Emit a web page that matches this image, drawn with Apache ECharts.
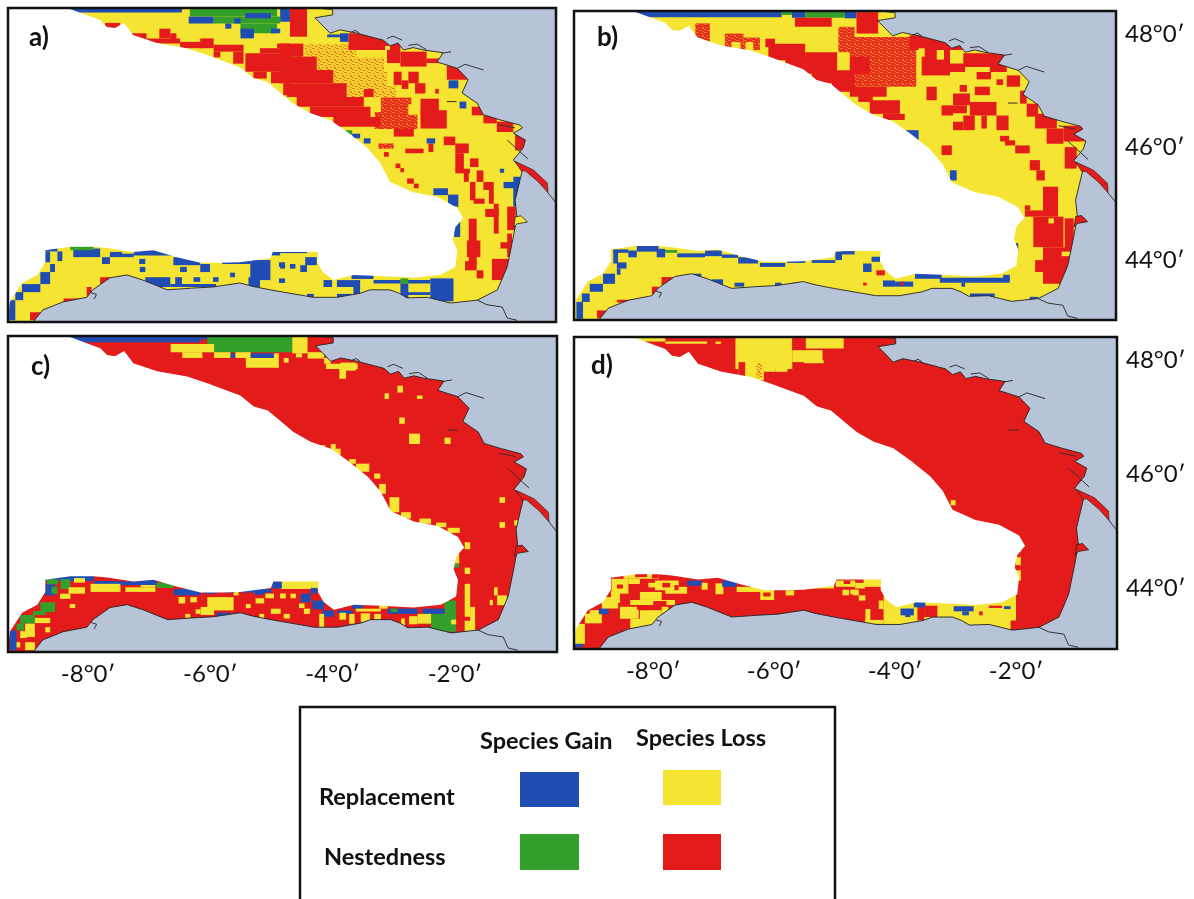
<!DOCTYPE html>
<html><head><meta charset="utf-8"><style>html,body{margin:0;padding:0;background:#fff}#c{width:1194px;height:899px}</style>
<script src="https://cdn.jsdelivr.net/npm/echarts@6/dist/echarts.min.js"></script></head><body><div id="c"></div>
<script>
const B=0,Y=1,G=2,R=3,O=4,S=5;
const classColors=['#1f4db3','#f5e532','#34a02c','#e31b1b'];
const classNames=['Replacement gain','Replacement loss','Nestedness gain','Nestedness loss'];
const lonTicks=[-8,-6,-4,-2];
const latTicks=[48,46,44];
const lonRange=[-9.31,-0.33];
const latRange=[42.94,48.41];
const deepWater=[[-9.31,48.41],[-8.34,48.41],[-7.80,48.20],[-7.69,48.08],[-7.56,48.06],[-7.41,48.15],[-7.26,47.94],[-6.87,47.80],[-6.38,47.71],[-6.05,47.59],[-5.51,47.38],[-5.29,47.19],[-5.06,47.12],[-4.80,46.89],[-4.64,46.75],[-4.36,46.58],[-4.03,46.46],[-3.75,46.25],[-3.42,45.97],[-3.21,45.71],[-3.05,45.38],[-2.67,45.20],[-2.28,45.12],[-1.95,44.93],[-1.85,44.75],[-1.98,44.59],[-2.02,44.37],[-1.95,44.19],[-1.98,43.90],[-2.23,43.76],[-2.67,43.71],[-3.21,43.74],[-3.65,43.76],[-3.98,43.67],[-4.15,43.81],[-4.24,43.98],[-4.23,44.16],[-4.97,44.16],[-5.01,44.05],[-5.51,43.98],[-5.83,43.97],[-6.16,43.97],[-6.54,44.07],[-6.93,44.19],[-7.26,44.16],[-7.69,44.23],[-7.92,44.25],[-8.29,44.25],[-8.70,44.19],[-8.70,43.98],[-8.83,43.76],[-9.08,43.62],[-9.28,43.29],[-9.31,42.97]];
const land=[[-4.24,48.41],[-3.99,48.38],[-3.99,48.29],[-4.28,48.24],[-4.03,47.97],[-3.87,48.03],[-3.59,47.97],[-3.16,47.85],[-3.05,47.75],[-2.92,47.80],[-2.83,47.68],[-2.67,47.72],[-2.51,47.68],[-2.18,47.63],[-2.28,47.47],[-1.95,47.36],[-1.77,47.16],[-1.87,46.93],[-1.62,46.75],[-1.52,46.55],[-1.24,46.46],[-0.92,46.37],[-0.88,46.32],[-1.03,46.23],[-0.83,46.11],[-0.87,45.97],[-1.03,45.76],[-0.88,45.59],[-1.0,45.06],[-0.97,44.77],[-1.03,44.42],[-1.13,43.90],[-1.29,43.50],[-1.62,43.32],[-2.06,43.27],[-2.44,43.37],[-2.77,43.36],[-2.9,43.44],[-3.05,43.50],[-3.38,43.50],[-3.54,43.44],[-3.92,43.37],[-4.31,43.37],[-4.52,43.41],[-4.69,43.44],[-5.01,43.50],[-5.3,43.56],[-5.51,43.62],[-5.95,43.55],[-6.3,43.53],[-6.70,43.50],[-7.10,43.67],[-7.36,43.76],[-7.64,43.71],[-7.92,43.50],[-8.02,43.37],[-8.41,43.29],[-8.74,43.15],[-8.90,42.94],[-0.33,42.94],[-0.33,48.41]];
const gironde=[[-1.0,45.74],[-0.70,45.59],[-0.47,45.36],[-0.46,45.19],[-0.62,45.38],[-0.83,45.57],[-0.90,45.57]];
const arcachon=[[-1.0,44.77],[-0.90,44.79],[-0.80,44.68],[-0.97,44.65],[-1.02,44.59]];
const riverLines=[
 [[-0.46,45.19],[-0.34,45.03]],
 [[-1.62,43.32],[-1.46,43.24],[-1.21,43.20],[-1.13,43.01],[-0.97,42.97]],
 [[-1.95,47.36],[-1.82,47.43],[-1.52,47.33]],
 [[-3.10,47.88],[-3.0,47.92],[-2.85,47.85]],
 [[-2.75,47.76],[-2.6,47.78],[-2.45,47.68]],
 [[-1.13,46.11],[-0.79,45.78]],
 [[-1.28,46.38],[-1.0,46.32]],
 [[-2.12,46.78],[-1.96,46.78]],
 [[-3.7,47.98],[-3.62,48.02],[-3.55,47.97]],
 [[-2.2,47.62],[-2.05,47.65]],
 [[-7.95,43.45],[-7.86,43.42],[-7.9,43.34]]
];
const cellsA=[
[-4.45,47.78,-3.6,47.55,O],[-4.25,47.55,-3.15,47.3,O],[-3.98,47.3,-3.1,47.05,O],[-3.75,47.05,-2.95,46.85,O],[-3.2,46.85,-2.7,46.55,S],[-3.3,46.6,-2.6,46.3,S],
[-8.4,48.41,-6.46,48.33,B],[-6.33,48.41,-4.9,48.26,G],[-5.94,48.26,-4.85,48.14,G],[-5.5,48.14,-4.9,47.97,G],[-6.35,48.26,-5.94,48.14,B],[-5.42,48.32,-5.0,48.23,B],[-5.6,48.23,-5.5,48.14,B],[-5.75,48.14,-5.65,48.05,B],[-5.5,48.05,-5.28,47.88,B],[-5.0,48.05,-4.85,47.97,B],[-4.85,48.41,-4.69,48.17,B],
[-4.69,48.41,-4.41,47.91,R],[-7.72,48.15,-7.47,48.06,R],[-7.28,47.97,-7.04,47.85,R],[-7.04,47.88,-6.49,47.79,R],[-6.83,48.05,-6.65,47.88,R],[-6.65,47.97,-6.55,47.82,R],[-6.49,47.82,-6.1,47.71,R],[-6.16,47.88,-5.94,47.71,R],[-5.94,47.77,-5.45,47.65,R],[-5.94,47.65,-5.83,47.55,R],[-5.62,47.65,-5.45,47.44,R],
[-5.42,47.62,-4.69,47.3,R],[-5.18,47.71,-4.69,47.62,R],[-4.9,47.79,-4.69,47.71,R],[-5.29,47.3,-5.07,47.18,R],[-5.0,47.3,-4.69,47.1,R],[-4.8,47.1,-4.69,46.89,R],
[-4.85,47.79,-4.47,47.56,R],[-4.85,47.56,-4.25,47.33,R],[-4.85,47.33,-3.98,47.1,R],[-4.74,47.1,-3.76,46.86,R],[-4.58,46.86,-3.48,46.69,R],[-4.36,46.69,-3.37,46.51,R],[-3.98,46.51,-3.21,46.34,R],
[-2.55,46.83,-2.25,46.54,R],[-2.55,46.63,-2.12,46.31,R],
[-3.73,47.97,-2.88,47.68,R],[-3.1,47.68,-2.88,47.45,R],[-2.88,47.65,-2.45,47.39,R],[-2.45,47.53,-2.17,47.45,R],[-2.12,47.45,-1.74,47.16,R],
[-2.99,47.3,-2.86,47.07,R],[-2.86,47.15,-2.75,47.0,R],[-2.75,47.3,-2.58,47.1,R],[-2.64,47.1,-2.47,46.92,R],[-2.31,47.0,-2.25,46.92,R],[-3.48,47.0,-3.32,46.86,R],
[-2.99,46.31,-2.66,46.17,R],[-1.71,46.69,-1.52,46.54,R],[-1.52,46.54,-1.3,46.4,R],[-1.3,46.43,-1.03,46.25,R],[-1.0,46.22,-0.83,45.93,R],
[-2.17,46.17,-1.98,46.02,R],[-1.98,46.05,-1.76,45.88,R],[-1.98,45.88,-1.84,45.6,R],[-1.98,45.61,-1.74,45.53,R],[-1.84,45.55,-1.76,45.38,R],[-1.74,45.79,-1.6,45.64,R],[-1.63,45.58,-1.52,45.38,R],[-1.74,45.38,-1.65,45.06,R],[-1.52,45.38,-1.35,45.24,R],[-1.68,45.09,-1.5,45.0,R],[-1.43,45.24,-1.35,45.0,R],[-1.49,44.91,-1.27,44.77,R],[-1.35,45.0,-1.27,44.48,R],[-1.13,44.95,-0.99,44.54,R],[-1.24,44.33,-1.05,44.22,R],[-1.13,44.48,-1.05,44.07,R],[-1.38,44.04,-1.08,43.67,R],
[-1.76,44.74,-1.63,43.95,R],[-1.82,44.0,-1.63,43.84,R],[-1.63,43.84,-1.52,43.7,R],[-1.79,44.36,-1.57,44.07,R],
[-2.8,45.96,-2.5,45.88,R],[-2.42,46.05,-2.34,45.9,R],[-3.24,46.05,-2.99,45.96,S],[-3.15,45.9,-3.07,45.82,R],[-2.96,45.7,-2.88,45.62,R],[-2.88,45.62,-2.82,45.55,R],[-2.77,45.44,-2.66,45.35,R],[-2.66,45.35,-2.58,45.27,R],
[-2.75,46.73,-2.58,46.55,Y],[-3.13,47.75,-3.05,47.68,Y],
[-1.91,46.78,-1.8,46.66,B],[-3.87,47.97,-3.73,47.82,B],[-4.08,47.95,-3.87,47.9,B],[-2.09,47.15,-1.93,47.01,B],[-1.25,45.61,-1.18,45.54,B],[-1.19,45.38,-0.92,45.27,B],[-1.03,45.47,-0.92,44.95,B],[-2.34,45.27,-2.1,45.15,B],[-2.1,45.16,-1.93,44.95,B],[-2.45,46.14,-2.31,46.05,B],[-2.0,44.68,-1.9,44.42,B],[-3.48,46.14,-3.37,46.05,B],[-3.67,46.22,-3.54,46.14,B],[-3.78,46.28,-3.67,46.2,G],
[-2.39,43.7,-2.01,43.3,B],[-3.92,43.67,-3.54,43.55,B],[-3.68,43.78,-3.32,43.69,B],[-3.65,43.55,-3.54,43.4,B],[-3.32,43.67,-2.39,43.61,B],[-2.88,43.61,-2.75,43.32,B],[-2.77,43.46,-2.39,43.41,B],[-4.14,43.67,-4.0,43.55,B],[-4.52,43.93,-4.41,43.81,B],[-4.44,44.07,-4.25,43.93,B],[-4.85,43.95,-4.77,43.87,B],[-4.69,43.95,-4.6,43.87,B],[-3.92,43.43,-3.67,43.37,B],[-4.41,43.43,-4.3,43.37,B],[-2.88,43.7,-2.75,43.61,G],[-4.85,44.19,-4.41,44.14,B],
[-8.24,44.22,-7.8,44.07,B],[-8.29,44.26,-7.91,44.19,G],[-8.7,44.25,-8.5,44.17,B],[-8.7,44.17,-8.62,43.98,B],[-8.5,44.17,-8.42,44.0,B],[-8.62,43.95,-8.54,43.81,B],[-8.78,43.81,-8.62,43.6,B],[-9.08,43.6,-8.78,43.46,B],[-9.19,43.46,-9.06,43.32,B],[-9.29,43.32,-9.19,42.97,B],
[-7.77,44.07,-7.64,43.95,B],[-7.64,44.16,-7.44,44.07,B],[-7.44,44.13,-7.25,44.07,B],[-7.25,44.2,-6.6,44.1,B],[-6.6,44.07,-6.16,43.93,B],[-6.16,43.95,-6.0,43.81,B],[-5.8,44.02,-5.34,43.95,B],[-5.34,44.02,-5.01,43.67,B],[-5.37,43.72,-5.18,43.55,B],[-5.01,44.16,-4.85,44.1,B],
[-7.16,44.04,-7.06,43.95,B],[-7.15,43.9,-7.06,43.81,B],[-7.06,43.72,-6.65,43.55,B],[-6.57,43.72,-6.46,43.55,B],[-6.49,43.9,-6.38,43.81,B],[-6.65,43.6,-5.9,43.55,B],[-6.27,43.72,-6.16,43.64,B],[-5.95,43.72,-5.86,43.64,B],[-5.67,43.8,-5.59,43.72,B],[-4.87,43.98,-4.77,43.9,B],[-4.87,43.7,-4.77,43.62,B],[-7.75,44.05,-7.64,43.97,B],
[-8.02,43.55,-7.94,43.32,R],[-8.95,43.11,-8.78,42.97,R],[-8.4,43.35,-8.02,43.27,R],[-7.8,43.72,-7.64,43.6,R]
];
const cellsB=[
[-4.93,48.13,-4.66,47.68,S],[-4.74,47.95,-3.64,47.07,S],
[-8.33,48.41,-5.87,48.3,B],[-5.7,48.41,-5.48,48.29,B],[-5.87,48.41,-5.7,48.34,G],[-5.48,48.41,-4.82,48.29,G],[-4.82,48.41,-4.63,48.28,B],[-5.65,48.29,-5.04,48.13,R],
[-7.3,48.19,-7.06,47.86,S],[-6.81,48.01,-6.5,47.86,S],[-6.81,47.86,-6.7,47.72,S],[-6.55,47.86,-6.47,47.72,S],[-6.34,47.92,-6.23,47.72,S],[-6.5,47.94,-6.23,47.86,S],
[-6.14,47.92,-5.98,47.77,R],[-6.09,47.83,-5.48,47.54,R],[-5.48,47.68,-4.95,47.3,R],[-5.81,47.6,-5.43,47.36,R],[-5.37,47.36,-4.66,47.13,R],[-5.04,47.18,-4.66,46.98,R],[-4.74,47.6,-4.41,47.3,R],
[-4.63,48.39,-4.27,48.01,R],[-4.74,47.07,-4.13,46.89,R],[-4.41,46.83,-3.91,46.59,R],[-4.19,46.59,-3.83,46.48,R],[-4.6,46.95,-4.36,46.8,R],
[-3.75,47.98,-2.86,47.72,R],[-3.55,47.72,-3.08,47.27,R],[-2.86,47.66,-2.14,47.42,R],[-3.08,47.48,-2.83,47.33,R],[-2.42,47.42,-2.14,47.33,R],[-2.67,47.07,-2.42,46.92,R],[-2.92,47.1,-2.8,46.98,R],[-2.31,47.2,-2.2,47.1,R],[-2.14,47.27,-1.92,47.07,R],[-2.64,47.33,-2.4,47.2,R],[-3.47,47.07,-3.3,46.83,R],
[-3.03,46.95,-2.75,46.74,R],[-3.22,46.74,-3.03,46.56,R],[-2.75,46.8,-2.31,46.56,R],[-2.86,46.56,-2.67,46.3,R],[-3.03,46.45,-2.86,46.3,R],[-2.56,46.56,-2.47,46.33,R],[-2.31,46.56,-2.11,46.3,R],[-3.03,46.74,-2.8,46.6,R],
[-3.3,47.72,-3.18,47.55,Y],[-3.6,47.75,-3.5,47.6,Y],
[-1.92,47.0,-1.81,46.77,R],[-1.81,46.77,-1.62,46.54,R],[-1.67,46.59,-1.31,46.33,R],[-1.48,46.33,-1.2,46.06,R],[-1.2,46.38,-0.85,46.1,R],[-1.18,46.0,-0.98,45.62,R],
[-2.25,46.2,-2.1,46.1,R],[-2.17,46.12,-2.0,46.03,R],[-2.0,46.03,-1.76,45.89,R],[-3.22,46.03,-3.05,45.86,R],[-1.76,45.77,-1.59,45.59,R],[-1.65,45.59,-1.51,45.41,R],
[-1.84,44.97,-1.75,44.88,R],[-1.54,45.3,-1.29,44.77,R],[-1.84,44.88,-1.54,44.77,R],[-1.7,44.77,-1.2,44.23,R],[-1.18,44.74,-1.03,44.12,R],[-1.54,44.23,-1.09,43.58,R],[-1.67,44.0,-1.5,43.79,R],
[-1.45,44.74,-1.36,44.65,Y],[-1.23,44.15,-1.09,44.07,Y],[-1.2,45.2,-1.12,45.08,Y],[-1.7,44.2,-1.54,44.05,Y],
[-3.91,46.3,-3.6,46.12,B],[-3.08,45.59,-2.97,45.41,B],[-2.0,44.3,-1.95,44.15,B],
[-4.38,44.06,-4.24,43.97,B],[-4.52,43.94,-4.38,43.79,B],[-4.3,43.82,-4.16,43.73,R],[-4.19,43.64,-3.99,43.53,B],[-3.99,43.62,-3.69,43.53,B],[-3.66,43.76,-3.22,43.67,B],[-3.25,43.69,-2.09,43.6,B],[-2.89,43.6,-2.83,43.53,B],[-2.2,43.74,-2.09,43.65,B],[-3.33,43.5,-3.08,43.41,B],[-2.75,43.41,-2.34,43.32,B],[-1.76,43.35,-1.62,43.29,B],[-4.52,43.6,-4.46,43.55,R],[-3.9,43.62,-3.85,43.55,R],
[-8.66,44.17,-8.58,43.94,B],[-8.66,44.19,-8.41,44.13,B],[-8.41,44.17,-8.27,44.05,B],[-8.27,44.25,-7.91,44.15,B],[-7.94,44.2,-7.8,44.05,B],[-7.8,44.18,-7.6,44.13,G],[-7.6,44.12,-7.14,44.05,B],[-7.14,44.17,-6.86,44.07,B],[-6.86,44.1,-6.59,44.04,B],[-6.59,44.05,-6.26,43.94,B],[-6.23,43.95,-5.81,43.88,B],[-5.78,44.0,-5.48,43.95,B],[-5.37,44.0,-4.98,43.95,B],[-4.98,44.15,-4.87,44.0,B],[-4.87,44.16,-4.66,44.1,B],
[-8.6,43.96,-8.44,43.85,B],[-8.6,43.85,-8.54,43.74,B],[-8.83,43.76,-8.63,43.58,B],[-9.05,43.58,-8.83,43.44,B],[-9.18,43.41,-9.05,43.26,B],[-9.27,43.26,-9.16,42.96,B],
[-8.02,43.53,-7.91,43.35,R],[-7.86,43.7,-7.64,43.56,R],[-8.6,43.3,-8.02,43.25,R],[-8.93,43.11,-8.74,42.97,R],[-7.33,43.76,-7.2,43.67,B],[-7.03,43.66,-6.84,43.53,B],[-6.65,43.6,-6.49,43.53,B],[-5.98,43.6,-5.87,43.54,B],[-5.7,43.6,-5.54,43.54,B]
];
const cellsC=[
[-8.32,48.41,-6.16,48.3,B],[-6.16,48.41,-6.05,48.35,B],[-6.05,48.41,-4.66,48.13,G],[-6.65,48.27,-5.94,48.13,Y],[-6.46,48.13,-6.13,48.03,Y],[-5.94,48.13,-5.67,48.03,Y],[-5.67,48.11,-5.59,48.03,B],[-5.59,48.13,-5.34,48.03,Y],[-5.34,48.11,-4.96,48.03,B],[-5.42,48.03,-4.88,47.86,Y],[-4.96,48.11,-4.88,48.03,Y],[-4.8,48.03,-4.72,47.95,Y],
[-4.66,48.41,-4.41,48.11,Y],[-4.41,48.13,-4.14,48.02,Y],[-4.14,48.03,-4.03,47.93,Y],[-4.11,47.93,-3.59,47.84,Y],[-3.89,47.84,-3.78,47.67,Y],[-3.87,47.95,-3.62,47.81,Y],[-4.6,48.11,-4.5,48.04,Y],
[-2.75,46.72,-2.57,46.54,Y],[-2.91,47.0,-2.82,46.89,Y],[-2.17,46.65,-2.07,46.54,Y],[-3.15,47.42,-3.08,47.32,Y],[-2.62,47.38,-2.53,47.32,Y],[-2.94,47.55,-2.85,47.43,Y],[-1.27,45.62,-1.18,45.52,Y],[-1.27,45.19,-1.18,45.09,Y],[-1.03,45.22,-0.96,45.13,Y],[-1.84,44.84,-1.75,44.72,Y],[-1.84,44.4,-1.75,44.29,Y],[-1.84,44.12,-1.75,43.55,Y],[-1.75,43.72,-1.67,43.35,Y],[-1.84,43.48,-1.67,43.3,Y],[-1.31,43.92,-1.15,43.75,Y],[-1.36,44.06,-1.3,43.92,Y],[-1.43,43.84,-1.38,43.75,Y],[-2.01,44.64,-1.93,44.47,Y],[-2.01,44.47,-1.93,44.4,G],
[-2.39,43.6,-1.98,43.29,G],[-2.17,43.83,-1.98,43.6,G],[-2.53,43.69,-2.17,43.6,B],[-2.06,43.5,-1.98,43.42,Y],
[-4.03,46.54,-3.95,46.43,Y],[-4.0,46.46,-3.87,46.28,Y],[-4.3,46.52,-4.12,46.47,Y],[-3.73,46.28,-3.62,46.2,Y],[-3.62,46.2,-3.4,46.06,Y],[-3.32,46.03,-3.22,45.94,Y],[-3.24,45.85,-3.13,45.68,Y],[-3.07,45.62,-2.91,45.36,Y],[-2.88,45.36,-2.72,45.25,Y],[-2.58,45.25,-2.39,45.16,Y],[-2.31,45.18,-2.14,45.1,Y],[-2.12,45.09,-1.92,45.0,Y],
[-4.85,44.17,-4.2,44.03,Y],[-4.52,43.95,-4.36,43.8,B],[-4.36,44.05,-4.25,43.95,B],[-4.33,43.83,-4.14,43.68,B],[-4.17,43.66,-3.98,43.55,B],[-3.92,43.66,-3.67,43.6,B],[-3.89,43.62,-3.78,43.5,Y],[-4.22,43.6,-4.14,43.37,Y],[-3.73,43.6,-3.64,43.43,Y],[-3.68,43.77,-3.51,43.69,B],[-3.62,43.69,-3.21,43.64,Y],[-3.54,43.61,-3.39,43.46,Y],[-3.32,43.6,-3.21,43.49,Y],[-3.1,43.69,-2.61,43.6,B],[-2.61,43.6,-2.39,43.43,Y],[-2.88,43.52,-2.82,43.37,Y],[-2.75,43.56,-2.61,43.42,Y],[-3.16,43.45,-3.0,43.39,Y],[-3.05,43.69,-2.94,43.63,G],[-3.24,43.74,-3.1,43.69,Y],
[-4.85,43.95,-4.77,43.87,Y],[-4.69,43.95,-4.6,43.87,Y],[-4.8,43.6,-4.7,43.52,Y],[-4.55,43.78,-4.46,43.7,Y],[-4.47,43.69,-4.37,43.6,Y],
[-8.29,44.26,-7.91,44.17,B],[-8.7,44.25,-7.91,44.17,B],[-8.23,44.22,-8.05,44.14,Y],[-8.68,44.2,-8.49,44.11,G],[-8.7,44.11,-8.54,43.92,B],[-8.6,44.07,-8.5,43.95,G],[-8.45,44.2,-8.29,44.03,G],[-7.9,44.17,-7.47,44.09,B],[-7.96,44.12,-7.47,43.98,Y],[-7.39,44.06,-6.9,43.98,Y],[-7.14,44.15,-6.9,44.06,Y],[-7.47,44.16,-6.88,44.1,B],[-7.14,44.2,-6.88,44.14,B],[-6.88,44.14,-6.6,44.05,G],[-6.6,44.03,-6.16,43.92,B],[-8.32,44.06,-8.05,43.95,Y],[-8.46,43.95,-8.29,43.86,Y],[-8.3,43.77,-8.21,43.7,Y],
[-8.78,43.8,-8.54,43.63,G],[-9.11,43.58,-8.87,43.43,G],[-8.87,43.53,-8.62,43.44,Y],[-9.03,43.43,-8.87,43.2,Y],[-9.11,43.3,-9.0,43.18,Y],[-8.7,43.37,-8.62,43.28,Y],[-9.22,43.11,-9.11,43.02,Y],[-9.03,43.11,-8.87,42.97,Y],[-9.28,43.31,-9.17,42.97,B],[-9.17,43.43,-9.05,43.31,G],[-8.9,43.65,-8.7,43.58,G],
[-6.52,43.89,-6.41,43.78,Y],[-6.33,43.89,-6.22,43.8,Y],[-6.16,43.72,-5.94,43.58,Y],[-6.05,43.89,-5.62,43.66,Y],[-6.24,43.68,-6.16,43.6,Y],[-6.41,43.6,-6.33,43.53,Y],[-5.42,43.77,-5.34,43.7,Y],[-5.26,43.87,-5.12,43.78,Y],[-5.1,43.95,-4.96,43.87,Y],[-5.01,43.69,-4.85,43.6,Y],[-4.86,43.95,-4.77,43.87,Y],[-5.2,43.6,-5.12,43.48,Y],[-5.62,44.03,-5.54,43.92,Y],[-5.8,44.0,-5.6,43.97,B],[-5.5,44.03,-5.0,43.97,B],[-5.28,44.0,-5.12,43.93,B],[-5.9,43.62,-5.67,43.55,B],[-4.99,44.16,-4.83,44.04,B],[-6.1,43.98,-5.9,43.95,B]
];
const cellsD=[
[-8.3,48.41,-7.8,48.33,Y],[-7.8,48.33,-7.11,48.29,Y],[-6.97,48.33,-6.88,48.29,Y],[-6.64,48.41,-5.7,47.85,Y],[-6.59,47.89,-6.17,47.65,Y],[-6.17,47.89,-5.98,47.8,Y],[-5.98,47.86,-5.78,47.8,Y],[-5.51,48.0,-5.18,47.95,Y],[-5.48,48.41,-4.85,48.21,Y],[-5.7,48.18,-5.2,47.97,Y],[-5.7,48.41,-5.48,48.18,R],[-6.59,47.97,-6.48,47.68,R],[-6.3,47.95,-6.2,47.7,O],
[-8.69,44.17,-8.41,43.91,Y],[-8.49,44.26,-7.91,44.17,Y],[-8.41,44.17,-8.22,44.08,Y],[-8.1,44.1,-7.95,44.02,Y],[-7.97,44.14,-7.58,43.97,Y],[-7.8,44.03,-7.44,43.91,Y],[-8.22,44.1,-8.08,44.0,R],[-8.3,44.26,-8.1,44.2,R],[-8.02,44.26,-7.91,44.18,R],[-8.6,44.07,-8.5,44.0,R],[-7.85,44.1,-7.72,44.02,R],[-7.65,44.06,-7.58,43.97,R],
[-7.2,44.1,-7.1,43.98,Y],[-6.97,44.09,-6.84,43.9,Y],[-7.44,44.14,-7.2,44.05,B],[-6.86,44.14,-6.62,44.03,B],[-6.62,44.03,-6.15,43.94,Y],[-6.23,44.0,-6.0,43.8,Y],[-6.18,43.93,-6.06,43.86,R],[-5.81,43.97,-5.67,43.88,Y],[-5.68,44.06,-5.01,44.0,Y],[-4.98,44.14,-4.66,44.03,Y],[-4.87,43.98,-4.76,43.88,Y],[-4.7,43.98,-4.6,43.88,Y],[-4.85,44.14,-4.74,44.08,R],
[-9.13,43.56,-8.85,43.39,Y],[-9.3,43.38,-9.13,43.03,Y],[-9.3,43.03,-9.16,42.97,B],[-8.9,43.65,-8.74,43.55,B],[-8.85,43.85,-8.58,43.65,Y],[-8.7,43.95,-8.55,43.75,Y],[-9.05,43.62,-8.9,43.5,Y],
[-8.38,43.8,-7.64,43.71,Y],[-8.55,43.68,-8.24,43.47,Y],[-8.38,43.47,-8.0,43.3,Y],[-8.22,43.94,-7.86,43.8,Y],[-8.22,43.62,-7.86,43.36,Y],[-7.86,43.68,-7.75,43.56,Y],[-8.27,43.7,-8.13,43.63,R],[-8.0,43.78,-7.78,43.71,R],
[-4.19,44.1,-2.0,43.25,Y],[-4.52,44.17,-4.22,44.03,Y],[-4.74,43.98,-4.66,43.9,Y],[-4.6,43.88,-4.49,43.79,Y],[-4.49,43.64,-4.41,43.43,Y],[-4.5,43.45,-4.19,43.38,Y],[-4.27,43.79,-4.19,43.64,Y],[-4.66,44.1,-4.5,44.0,Y],
[-3.63,43.73,-3.52,43.44,R],[-3.52,43.7,-3.3,43.5,R],[-3.91,43.65,-3.69,43.53,B],[-3.69,43.76,-3.5,43.67,B],[-3.83,43.57,-3.75,43.5,B],[-3.03,43.69,-2.7,43.6,B],[-2.89,43.6,-2.78,43.53,B],[-2.61,43.6,-2.55,43.53,R],[-2.45,43.7,-2.23,43.66,R],[-2.2,43.69,-2.09,43.64,B],[-2.09,43.44,-2.0,43.27,R],[-3.55,43.45,-3.47,43.38,B],
[-2.0,44.7,-1.92,44.14,Y],[-2.0,44.64,-1.92,44.55,R],[-2.0,44.41,-1.92,44.32,R],[-3.08,45.55,-3.0,45.46,Y]
];
const panelCells=[cellsA,cellsB,cellsC,cellsD];
const panelBase=[classColors[Y],classColors[Y],classColors[R],classColors[R]];
const arcachonCls=[Y,R,R,R];
const frames=[{left:8,top:8,width:548,height:314},{left:574,top:11,width:542,height:309},{left:8,top:336,width:549,height:316},{left:574,top:337,width:543,height:312}];
const letters=[['a)',29,38],['b)',597,38],['c)',31,367],['d)',591,366]];
const FONT='Lato,"Open Sans",sans-serif';
const TICKFONT=24;

// fill texture for the fine-grained mottled cells of the finest-resolution area
function texture(base,fleck){
  const c=document.createElement('canvas');c.width=c.height=8;
  const g=c.getContext('2d');g.fillStyle=base;g.fillRect(0,0,8,8);
  g.fillStyle=fleck;
  [[0,0,3,1],[5,1,2,1],[2,3,2,1],[6,3,2,2],[0,5,2,1],[3,6,3,1],[7,7,1,1]].forEach(r=>g.fillRect(r[0],r[1],r[2],r[3]));
  return {image:c,repeat:'repeat'};
}
const classFills=[...classColors,texture('#f5d42e','#ea7a22'),texture('#e62a1c','#ef7a26')];

function rectRender(p,api){
  const a=api.coord([api.value(0),api.value(1)]),b=api.coord([api.value(2),api.value(3)]);
  return {type:'rect',shape:{x:a[0],y:a[1],width:b[0]-a[0],height:b[1]-a[1]},style:{fill:classFills[api.value(4)]}};
}
function polySeries(i,pts,fill,stroke,z,lw){
  return {type:'custom',xAxisIndex:i,yAxisIndex:i,z,silent:true,animation:false,clip:true,data:[pts[0]],
    renderItem:(p,api)=>({type:'polygon',shape:{points:pts.map(c=>api.coord(c))},style:{fill,stroke,lineWidth:lw||1}})};
}
const grid=[],xAxis=[],yAxis=[],series=[];
frames.forEach((f,i)=>{
  grid.push({...f,show:true,backgroundColor:panelBase[i],borderWidth:0});
  const bottom=i>=2,right=i%2===1;
  xAxis.push({type:'value',gridIndex:i,min:lonRange[0],max:lonRange[1],show:bottom,axisLine:{show:false},axisTick:{show:false},splitLine:{show:false},
    axisLabel:{show:bottom,customValues:lonTicks,margin:10,fontFamily:FONT,fontSize:TICKFONT,color:'#111',formatter:v=>v+'°0′'}});
  yAxis.push({type:'value',gridIndex:i,min:latRange[0],max:latRange[1],show:right,position:'right',axisLine:{show:false},axisTick:{show:false},splitLine:{show:false},
    axisLabel:{show:right,customValues:latTicks,margin:9,fontFamily:FONT,fontSize:TICKFONT,color:'#111',formatter:v=>v+'°0′'}});
  series.push({type:'custom',xAxisIndex:i,yAxisIndex:i,z:2,silent:true,animation:false,clip:true,data:panelCells[i],encode:{x:[0,2],y:[1,3]},renderItem:rectRender});
  series.push(polySeries(i,deepWater,'#ffffff','transparent',3,0));
  series.push(polySeries(i,land,'#b7c4d7','#222',4,0.9));
  series.push(polySeries(i,gironde,classColors[R],'#222',5,0.6));
  series.push(polySeries(i,arcachon,classColors[arcachonCls[i]],'#222',5,0.8));
  series.push({type:'custom',xAxisIndex:i,yAxisIndex:i,z:6,silent:true,animation:false,clip:true,data:[riverLines[0][0]],
    renderItem:(p,api)=>({type:'group',children:riverLines.map(l=>({type:'polyline',shape:{points:l.map(c=>api.coord(c))},style:{fill:'none',stroke:'#333',lineWidth:1}}))})});
  series.push({type:'custom',xAxisIndex:i,yAxisIndex:i,z:7,silent:true,animation:false,clip:false,data:[[lonRange[0],latRange[1]]],
    renderItem:(p,api)=>{const a=api.coord([lonRange[0],latRange[1]]),b=api.coord([lonRange[1],latRange[0]]);
      return {type:'rect',shape:{x:a[0],y:a[1],width:b[0]-a[0],height:b[1]-a[1]},style:{fill:'none',stroke:'#111',lineWidth:2.5}};}});
});
const txt=(t,x,y,size)=>({type:'text',x,y,z:20,style:{text:t,fontFamily:FONT,fontWeight:'bold',fontSize:size,fill:'#111',verticalAlign:'middle'}});
const sw=(x,y,w,h,c)=>({type:'rect',z:20,shape:{x,y,width:w,height:h},style:{fill:c}});
const graphic=[
  ...letters.map(l=>txt(l[0],l[1],l[2],26)),
  {type:'rect',z:19,shape:{x:300,y:707,width:535,height:200},style:{fill:'#fff',stroke:'#111',lineWidth:2.5}},
  txt('Species Gain',480,741,23.5),txt('Species Loss',636,738,23.5),txt('Replacement',319,797,23.5),txt('Nestedness',324,857,23.5),
  sw(520,772,59,35,classColors[B]),sw(663,770,58,35,classColors[Y]),sw(520,834,59,36,classColors[G]),sw(663,834,58,36,classColors[R])
];
const chart=echarts.init(document.getElementById('c'),null,{renderer:'canvas'});
chart.setOption({animation:false,backgroundColor:'#fff',grid,xAxis,yAxis,series,graphic});
</script></body></html>
